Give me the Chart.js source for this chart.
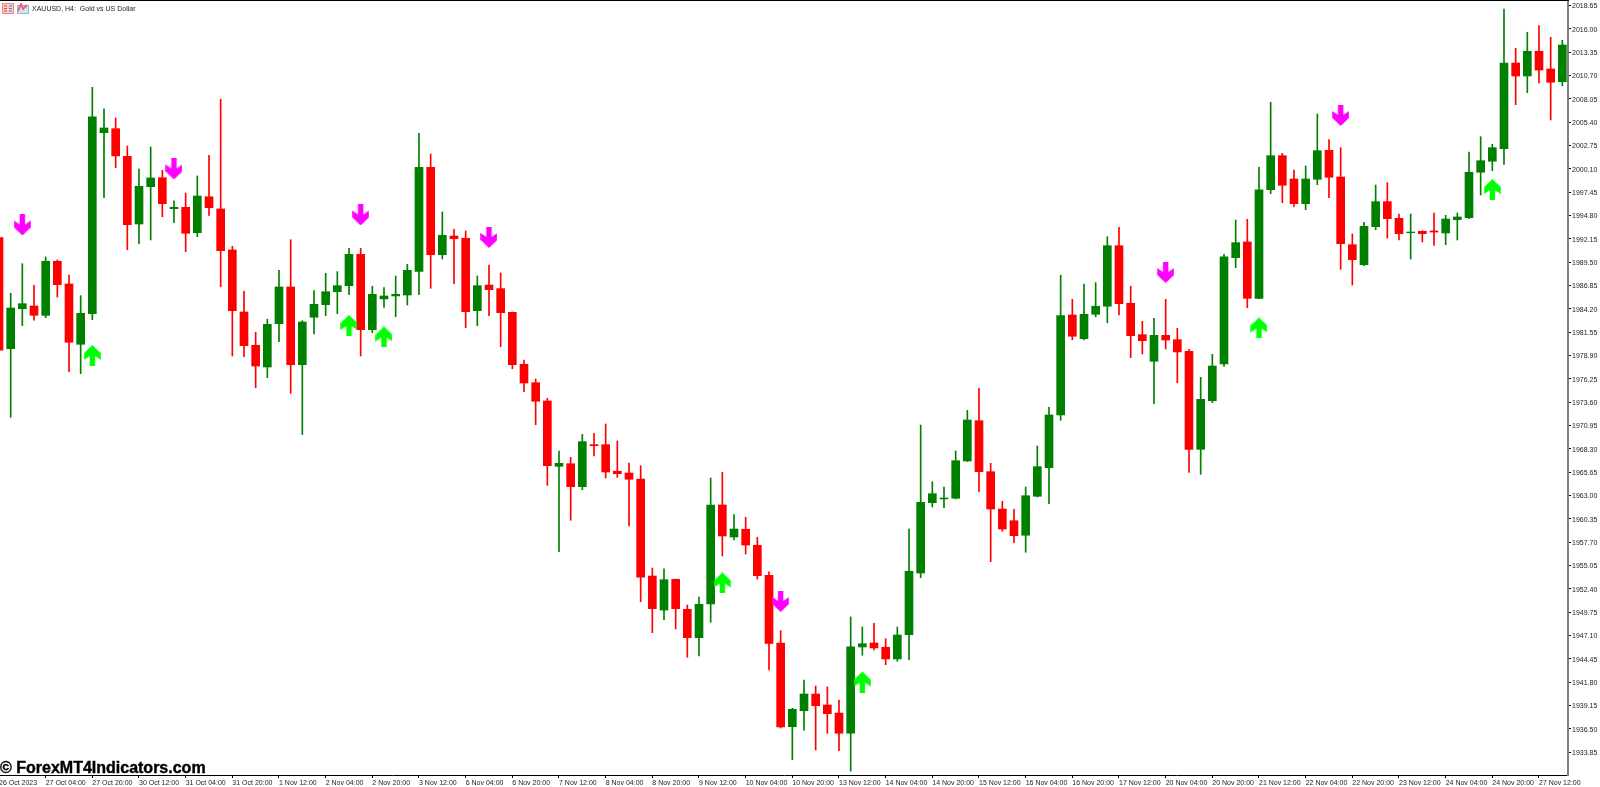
<!DOCTYPE html>
<html>
<head>
    <title>XAUUSD, H4</title>
    <meta charset="UTF-8">
    <script src="https://cdn.jsdelivr.net/npm/chart.js"></script>
    <style>
        html, body { margin: 0; padding: 0; background: #fff; overflow: hidden; }
        #wrap { position: relative; width: 1600px; height: 787px; }
        #top-line { position: absolute; left: 0; top: 0; width: 1569px; height: 1px; background: #000; }
        #symbol { position: absolute; left: 32px; top: 4px; font: 7px "Liberation Sans", sans-serif; color: #222; white-space: pre; line-height: 10px; }
        #mark { position: absolute; left: 0; top: 759px; font: bold 16px "Liberation Sans", sans-serif; color: #000; -webkit-text-stroke: 0.4px #000; white-space: pre; line-height: 18px; }
        .icon { position: absolute; top: 3px; }
    </style>
</head>
<body>
<div id="wrap">
    <canvas id="chart" width="1600" height="787"></canvas>
    <div id="top-line"></div>
    <svg class="icon" style="left:2px" width="12" height="11"><rect x="0.5" y="0.5" width="11" height="10" fill="#fbd0c8" stroke="#e88"/><path d="M2 3h3M2 5.5h3M2 8h3" stroke="#e33"/><path d="M7 3h3M7 5.5h3M7 8h3" stroke="#38c"/></svg>
    <svg class="icon" style="left:17px" width="12" height="11"><rect x="0.5" y="2.5" width="11" height="8" fill="#cfe6f7" stroke="#8bd"/><path d="M1 8L4 1L6 6L10 2" fill="none" stroke="#e66" stroke-width="2"/></svg>
    <div id="symbol">XAUUSD, H4:  Gold vs US Dollar</div>
    <div id="mark">© ForexMT4Indicators.com</div>
</div>

<script>
// H4 bars, oldest first
const opens = [
    1992.28, 1979.67, 1984.21, 1984.52, 1983.46, 1989.60, 1987.02, 1980.17, 1983.65, 2004.20,
    2004.66, 2001.52, 1993.83, 1998.07, 1999.09, 1995.57, 1995.73, 1992.85, 1996.93, 1995.54,
    1990.88, 1983.84, 1980.06, 1977.59, 1982.51, 1986.68, 1977.85, 1983.24, 1984.67, 1986.14,
    1986.83, 1990.39, 1981.83, 1985.32, 1985.66, 1985.77, 1988.46, 2000.27, 1990.35, 1992.47,
    1992.21, 1983.99, 1986.90, 1986.49, 1983.80, 1977.90, 1975.81, 1973.73, 1966.31, 1966.61,
    1964.00, 1968.77, 1968.77, 1965.75, 1965.55, 1964.87, 1953.85, 1949.99, 1953.47, 1950.07,
    1946.85, 1950.67, 1961.92, 1958.28, 1959.16, 1957.34, 1953.93, 1946.24, 1936.74, 1938.55,
    1940.45, 1939.20, 1938.29, 1935.99, 1945.79, 1946.24, 1945.76, 1944.43, 1947.19, 1954.19,
    1962.18, 1962.60, 1962.68, 1966.92, 1971.49, 1965.70, 1961.46, 1960.13, 1958.48, 1962.91,
    1966.15, 1972.14, 1983.50, 1980.81, 1983.58, 1984.49, 1991.37, 1984.83, 1981.26, 1978.24,
    1981.19, 1980.69, 1979.37, 1968.24, 1973.76, 1977.93, 1990.01, 1991.79, 1985.39, 1997.73,
    2001.59, 1998.94, 1996.14, 1998.91, 2002.20, 1999.17, 1991.48, 1989.21, 1993.53, 1996.37,
    1994.48, 1992.85, 1993.00, 1993.04, 1992.81, 1994.32, 1994.55, 1999.71, 2000.96, 2002.39,
    2012.12, 2010.64, 2013.45, 2011.44, 2009.99
];
const closes = [
    1979.49, 1984.29, 1984.78, 1983.46, 1989.60, 1986.94, 1980.40, 1983.69, 2005.99, 2004.74,
    2001.56, 1993.75, 1998.12, 1999.06, 1996.14, 1995.73, 1992.78, 1997.01, 1995.68, 1990.80,
    1983.99, 1980.01, 1977.70, 1982.44, 1986.68, 1977.85, 1982.70, 1984.71, 1986.14, 1986.83,
    1990.39, 1981.83, 1985.85, 1985.66, 1985.85, 1988.57, 2000.27, 1990.35, 1992.55, 1992.16,
    1983.87, 1986.83, 1986.37, 1983.76, 1977.85, 1975.77, 1973.70, 1966.38, 1966.65, 1964.00,
    1969.11, 1968.65, 1965.67, 1965.47, 1964.84, 1953.71, 1950.14, 1953.43, 1950.14, 1946.85,
    1950.64, 1961.92, 1958.40, 1959.19, 1957.37, 1953.89, 1946.19, 1936.70, 1938.71, 1940.45,
    1939.12, 1938.21, 1935.99, 1945.82, 1946.16, 1945.68, 1944.43, 1947.15, 1954.39, 1962.22,
    1963.20, 1962.71, 1966.95, 1971.57, 1965.70, 1961.46, 1959.19, 1958.43, 1962.97, 1966.27,
    1972.14, 1983.42, 1981.08, 1983.58, 1984.49, 1991.37, 1984.78, 1981.15, 1980.58, 1981.19,
    1980.66, 1979.30, 1968.24, 1973.92, 1977.70, 1990.09, 1991.71, 1985.39, 1997.70, 2001.59,
    1998.23, 1996.14, 1998.94, 2002.16, 1999.14, 1991.60, 1989.78, 1993.57, 1996.37, 1994.44,
    1992.73, 1992.92, 1992.73, 1992.92, 1994.40, 1994.63, 1999.71, 2001.02, 2002.50, 2012.12,
    2010.64, 2013.45, 2011.32, 2009.93, 2014.16
];
const highs = [
    1992.28, 1985.96, 1989.32, 1986.87, 1990.09, 1989.74, 1988.04, 1985.69, 2009.36, 2006.90,
    2005.87, 2002.69, 2000.08, 2002.58, 1999.93, 1996.45, 1997.35, 1999.29, 2001.64, 2008.00,
    1991.30, 1986.19, 1981.53, 1983.01, 1988.57, 1992.05, 1982.85, 1986.26, 1988.23, 1988.42,
    1991.07, 1991.07, 1986.76, 1986.60, 1987.93, 1989.26, 2004.14, 2001.78, 1995.20, 1993.23,
    1993.04, 1987.93, 1989.18, 1988.27, 1983.84, 1978.39, 1976.23, 1974.04, 1968.05, 1967.33,
    1969.95, 1970.06, 1971.12, 1969.19, 1966.69, 1966.38, 1954.76, 1954.68, 1953.51, 1950.56,
    1951.47, 1964.98, 1965.63, 1960.82, 1960.52, 1958.25, 1954.34, 1947.64, 1938.83, 1942.04,
    1941.36, 1941.25, 1939.77, 1949.20, 1948.06, 1948.48, 1946.73, 1948.06, 1959.19, 1971.00,
    1964.56, 1963.96, 1968.05, 1972.67, 1975.17, 1966.65, 1962.34, 1961.43, 1963.96, 1968.62,
    1973.01, 1988.01, 1985.28, 1987.02, 1987.17, 1992.39, 1993.46, 1986.76, 1982.78, 1983.12,
    1985.28, 1981.99, 1979.60, 1976.42, 1979.03, 1990.39, 1994.29, 1994.37, 2000.27, 2007.66,
    2001.86, 1999.97, 2000.42, 2006.33, 2003.41, 2002.50, 1992.70, 1994.03, 1998.26, 1998.52,
    1994.97, 1994.97, 1993.07, 1995.08, 1994.82, 1995.08, 2002.01, 2003.75, 2002.89, 2018.25,
    2013.79, 2015.61, 2016.36, 2015.04, 2014.70
];
const lows = [
    1979.49, 1971.88, 1982.28, 1982.90, 1983.19, 1985.54, 1977.06, 1976.83, 1982.96, 1996.82,
    2000.23, 1990.91, 1991.60, 1992.02, 1994.66, 1993.98, 1990.69, 1992.39, 1994.82, 1986.71,
    1978.84, 1978.76, 1975.24, 1976.38, 1980.47, 1974.60, 1969.92, 1981.34, 1983.42, 1983.65,
    1985.80, 1978.84, 1981.49, 1984.37, 1983.30, 1984.63, 1985.80, 1986.53, 1989.86, 1987.05,
    1982.06, 1982.28, 1983.42, 1979.90, 1977.40, 1974.79, 1971.04, 1964.15, 1956.61, 1960.18,
    1963.66, 1967.48, 1964.98, 1965.06, 1959.53, 1950.93, 1947.41, 1948.89, 1947.83, 1944.62,
    1944.77, 1948.59, 1956.12, 1957.94, 1956.35, 1953.51, 1943.18, 1936.59, 1932.99, 1936.33,
    1934.09, 1935.99, 1934.01, 1931.70, 1944.85, 1945.45, 1943.78, 1944.17, 1944.35, 1953.66,
    1961.69, 1961.61, 1962.60, 1966.86, 1963.43, 1955.48, 1958.93, 1957.64, 1956.55, 1962.83,
    1962.06, 1971.54, 1980.69, 1980.66, 1983.30, 1982.62, 1983.50, 1978.65, 1979.07, 1973.42,
    1979.64, 1975.81, 1965.63, 1965.40, 1973.54, 1977.67, 1988.87, 1984.33, 1985.35, 1997.28,
    1996.25, 1995.80, 1995.46, 1998.30, 1996.82, 1988.69, 1986.90, 1989.10, 1993.19, 1992.24,
    1992.02, 1989.86, 1991.79, 1991.41, 1991.48, 1992.02, 1994.44, 1997.13, 1999.89, 2000.61,
    2007.38, 2008.75, 2009.85, 2005.65, 2009.51
];

// indicator arrows: bar index and the price at the middle of the arrow
const sellBars = [2, 15, 31, 42, 67, 100, 115];
const sellPrices = [1993.72, 2000.08, 1994.86, 1992.30, 1950.96, 1988.32, 2006.16];
const buyBars = [8, 30, 33, 62, 74, 108, 128];
const buyPrices = [1978.90, 1982.31, 1981.00, 1953.06, 1941.81, 1982.02, 1997.75];

// one label every 4 bars
const timeLabels = [
    '26 Oct 2023', '27 Oct 04:00', '27 Oct 20:00', '30 Oct 12:00', '31 Oct 04:00', '31 Oct 20:00',
    '1 Nov 12:00', '2 Nov 04:00', '2 Nov 20:00', '3 Nov 12:00', '6 Nov 04:00', '6 Nov 20:00',
    '7 Nov 12:00', '8 Nov 04:00', '8 Nov 20:00', '9 Nov 12:00', '10 Nov 04:00', '10 Nov 20:00',
    '13 Nov 12:00', '14 Nov 04:00', '14 Nov 20:00', '15 Nov 12:00', '16 Nov 04:00', '16 Nov 20:00',
    '17 Nov 12:00', '20 Nov 04:00', '20 Nov 20:00', '21 Nov 12:00', '22 Nov 04:00', '22 Nov 20:00',
    '23 Nov 12:00', '24 Nov 04:00', '24 Nov 20:00', '27 Nov 12:00'
];
const priceTicks = [
    2018.65, 2016.00, 2013.35, 2010.70, 2008.05, 2005.40, 2002.75, 2000.10, 1997.45, 1994.80, 1992.15,
    1989.50, 1986.85, 1984.20, 1981.55, 1978.90, 1976.25, 1973.60, 1970.95, 1968.30, 1965.65, 1963.00,
    1960.35, 1957.70, 1955.05, 1952.40, 1949.75, 1947.10, 1944.45, 1941.80, 1939.15, 1936.50, 1933.85
];

const UP = '#008000', DOWN = '#ff0000';
const barColors = opens.map((o, i) => closes[i] >= o ? UP : DOWN);

function arrowImage(color, pointsDown) {
    const c = document.createElement('canvas');
    c.width = 17; c.height = 21;
    const g = c.getContext('2d');
    if (!pointsDown) { g.translate(0, 21); g.scale(1, -1); }
    g.fillStyle = color;
    g.beginPath();
    [[5.8, 0], [11.2, 0], [11.2, 10], [16.8, 6], [16.8, 13], [8.5, 21], [0.2, 13], [0.2, 6], [5.8, 10]]
        .forEach((p, i) => i ? g.lineTo(p[0], p[1]) : g.moveTo(p[0], p[1]));
    g.closePath();
    g.fill();
    return c;
}

new Chart(document.getElementById('chart'), {
    type: 'bar',
    data: {
        datasets: [
            {
                type: 'scatter',
                data: sellBars.map((b, i) => ({ x: b, y: sellPrices[i] })),
                pointStyle: arrowImage('#ff00ff', true),
                clip: false
            },
            {
                type: 'scatter',
                data: buyBars.map((b, i) => ({ x: b, y: buyPrices[i] })),
                pointStyle: arrowImage('#00ff00', false),
                clip: false
            },
            {
                // candle bodies
                data: opens.map((o, i) => ({ x: i, y: [o, closes[i]] })),
                backgroundColor: barColors,
                borderWidth: 0,
                barThickness: 8,
                grouped: false
            },
            {
                // wicks
                data: opens.map((o, i) => ({ x: i, y: [lows[i], highs[i]] })),
                backgroundColor: barColors,
                borderWidth: 0,
                barThickness: 1,
                grouped: false
            }
        ]
    },
    options: {
        responsive: false,
        animation: false,
        devicePixelRatio: 1,
        layout: { autoPadding: false, padding: { top: 1, left: 0, right: 0, bottom: 0 } },
        plugins: { legend: { display: false }, tooltip: { enabled: false } },
        scales: {
            x: {
                type: 'linear',
                offset: false,
                min: 0.0857,
                max: 134.486,
                grid: { display: true, drawOnChartArea: false, offset: false, tickLength: 3, tickColor: '#000' },
                border: { display: true, color: '#000', width: 1 },
                afterBuildTicks: scale => { scale.ticks = timeLabels.map((_, k) => ({ value: k * 4 })); },
                afterFit: scale => {
                    // labels hang past the ends of the axis, do not let them push the plot in
                    scale.height = 12;
                    scale.paddingLeft = scale.paddingRight = 0;
                },
                ticks: {
                    align: 'start',
                    autoSkip: false,
                    maxRotation: 0,
                    minRotation: 0,
                    padding: 1,
                    color: '#222',
                    font: { family: '"Liberation Sans"', size: 7 },
                    callback: (value, index) => timeLabels[index]
                }
            },
            y: {
                position: 'right',
                min: 1931.25,
                max: 2019.16,
                grid: { display: true, drawOnChartArea: false, tickLength: 3, tickColor: '#000' },
                border: { display: true, color: '#808080', width: 2 },
                afterBuildTicks: scale => { scale.ticks = priceTicks.map(v => ({ value: v })); },
                afterFit: scale => {
                    scale.width = 32;
                    scale.paddingTop = scale.paddingBottom = 0;
                },
                ticks: {
                    autoSkip: false,
                    padding: 1,
                    labelOffset: 1,
                    color: '#222',
                    font: { family: '"Liberation Sans"', size: 7 },
                    callback: value => value.toFixed(2)
                }
            }
        }
    }
});
</script>
</body>
</html>
